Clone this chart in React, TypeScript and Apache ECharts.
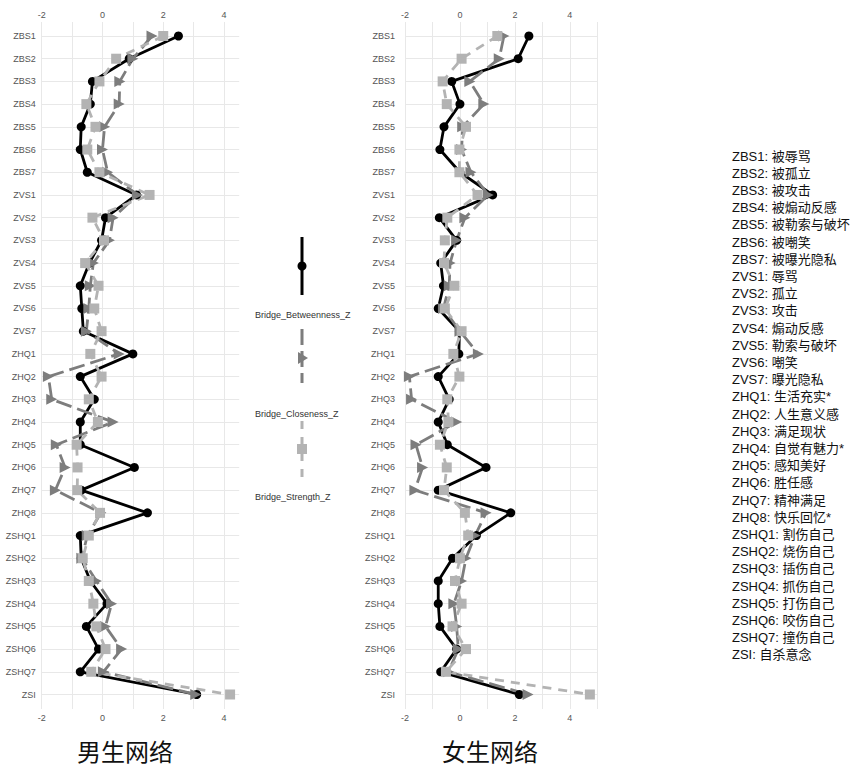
import React, { useEffect, useRef } from "react";
import * as echarts from "echarts";

const categories = [
  "ZBS1", "ZBS2", "ZBS3", "ZBS4", "ZBS5", "ZBS6", "ZBS7",
  "ZVS1", "ZVS2", "ZVS3", "ZVS4", "ZVS5", "ZVS6", "ZVS7",
  "ZHQ1", "ZHQ2", "ZHQ3", "ZHQ4", "ZHQ5", "ZHQ6", "ZHQ7", "ZHQ8",
  "ZSHQ1", "ZSHQ2", "ZSHQ3", "ZSHQ4", "ZSHQ5", "ZSHQ6", "ZSHQ7", "ZSI",
];

const maleBetweenness = [
  2.5, 0.88, -0.33, -0.4, -0.7, -0.73, -0.5,
  1.12, 0.1, -0.03, -0.43, -0.73, -0.68, -0.63,
  1.0, -0.73, -0.27, -0.73, -0.73, 1.05, -0.7, 1.48,
  -0.73, -0.7, -0.4, 0.15, -0.53, -0.13, -0.73, 3.1,
];
const maleCloseness = [
  1.63, 1.0, 0.57, 0.55, 0.07, 0.0, 0.17,
  1.15, 0.35, 0.23, -0.3, -0.4, -0.45, -0.53,
  0.55, -1.78, -1.67, 0.35, -1.52, -1.23, -1.55, -0.05,
  -0.5, -0.68, -0.2, 0.3, 0.1, 0.63, 0.03, 3.07,
];
const maleStrength = [
  2.0, 0.45, -0.1, -0.53, -0.23, -0.5, -0.1,
  1.55, -0.33, 0.05, -0.57, -0.13, -0.27, -0.03,
  -0.4, -0.03, -0.45, -0.15, -0.85, -0.82, -0.83, -0.08,
  -0.45, -0.65, -0.45, -0.3, -0.2, 0.1, -0.37, 4.2,
];

const femaleBetweenness = [
  2.51, 2.12, -0.3, 0.0, -0.58, -0.73, 0.0,
  1.19, -0.75, -0.12, -0.7, -0.6, -0.79, -0.02,
  -0.04, -0.79, -0.39, -0.79, -0.46, 0.95, -0.79, 1.85,
  0.6, -0.27, -0.79, -0.79, -0.73, -0.12, -0.7, 2.16,
];
const femaleCloseness = [
  1.6, 1.43, 0.36, 0.87, 0.1, 0.06, 0.4,
  1.03, 0.18, -0.12, -0.36, -0.39, -0.6, 0.0,
  0.67, -1.84, -1.76, -0.12, -1.6, -1.36, -1.64, 0.95,
  0.55, 0.22, 0.06, -0.22, -0.12, -0.06, -0.42, 2.48,
];
const femaleStrength = [
  1.36, 0.06, -0.63, -0.48, 0.22, -0.02, -0.02,
  0.64, -0.46, -0.55, -0.58, -0.2, -0.55, 0.06,
  -0.24, -0.02, -0.46, -0.42, -0.73, -0.48, -0.58, 0.18,
  0.3, 0.0, -0.18, 0.06, -0.27, 0.22, -0.51, 4.73,
];

const legendNames = ["Bridge_Betweenness_Z", "Bridge_Closeness_Z", "Bridge_Strength_Z"];
const panelTitles = ["男生网络", "女生网络"];

const definitions = [
  "ZBS1: 被辱骂", "ZBS2: 被孤立", "ZBS3: 被攻击", "ZBS4: 被煽动反感", "ZBS5: 被勒索与破坏",
  "ZBS6: 被嘲笑", "ZBS7: 被曝光隐私", "ZVS1: 辱骂", "ZVS2: 孤立", "ZVS3: 攻击",
  "ZVS4: 煽动反感", "ZVS5: 勒索与破坏", "ZVS6: 嘲笑", "ZVS7: 曝光隐私", "ZHQ1: 生活充实*",
  "ZHQ2: 人生意义感", "ZHQ3: 满足现状", "ZHQ4: 自觉有魅力*", "ZHQ5: 感知美好", "ZHQ6: 胜任感",
  "ZHQ7: 精神满足", "ZHQ8: 快乐回忆*", "ZSHQ1: 割伤自己", "ZSHQ2: 烧伤自己", "ZSHQ3: 插伤自己",
  "ZSHQ4: 抓伤自己", "ZSHQ5: 打伤自己", "ZSHQ6: 咬伤自己", "ZSHQ7: 撞伤自己", "ZSI: 自杀意念",
];

const BLACK = "#000000";
const MID = "#7d7d7d";
const LIGHT = "#b3b3b3";
const FONT = "'Liberation Sans', Arial, 'Noto Sans CJK SC', sans-serif";
const GRIDC = "#e8e8e8";

export default function App() {
  const ref = useRef<HTMLDivElement>(null);

  useEffect(() => {
    document.body.style.margin = "0";
    const chart = echarts.init(ref.current!, null, { renderer: "svg" });

    const panels = [
      { left: 41.7, width: 197.5, min: -2, max: 4.5, b: maleBetweenness, c: maleCloseness, s: maleStrength, labelMargin: 6 },
      { left: 405, width: 192.3, min: -2, max: 5, b: femaleBetweenness, c: femaleCloseness, s: femaleStrength, labelMargin: 10 },
    ];

    const grid: any[] = [];
    const xAxis: any[] = [];
    const yAxis: any[] = [];
    const series: any[] = [];

    const fmt = (v: number) => (Math.abs(v % 2) < 1e-9 ? String(v) : "");

    panels.forEach((p, pi) => {
      const gA = pi * 2;
      const gB = pi * 2 + 1;
      grid.push({ left: p.left, width: p.width, top: 22, height: 687 });
      grid.push({ left: p.left, width: p.width, top: 36, height: 658.5 });

      xAxis.push({
        type: "value", gridIndex: gA, position: "top", min: p.min, max: p.max, interval: 1,
        axisLine: { show: false }, axisTick: { show: false }, splitLine: { show: false },
        axisLabel: { formatter: fmt, fontSize: 9, color: "#555", fontFamily: FONT, margin: 3, showMaxLabel: false },
      });
      xAxis.push({
        type: "value", gridIndex: gA, position: "bottom", min: p.min, max: p.max, interval: 1,
        axisLine: { show: false }, axisTick: { show: false },
        splitLine: { show: true, showMaxLine: pi === 1, lineStyle: { color: GRIDC, width: 1 } },
        axisLabel: { formatter: fmt, fontSize: 9, color: "#555", fontFamily: FONT, margin: 4, showMaxLabel: false },
      });
      const xData = xAxis.length;
      xAxis.push({ type: "value", gridIndex: gB, min: p.min, max: p.max, show: false });

      yAxis.push({ type: "value", gridIndex: gA, show: false });
      const yData = yAxis.length;
      yAxis.push({
        type: "category", gridIndex: gB, data: categories, inverse: true, boundaryGap: false,
        axisLine: { show: false }, axisTick: { show: false },
        axisLabel: { interval: 0, fontSize: 9, color: "#555", fontFamily: FONT, margin: p.labelMargin },
        splitLine: { show: true, interval: 0, lineStyle: { color: GRIDC, width: 1 } },
      });

      const mk = (vals: number[]) => categories.map((c, i) => [vals[i], c]);
      const measures = [
        { name: legendNames[0], vals: p.b, color: BLACK, dash: "solid" as any, symbol: "circle", size: 9, rot: 0 },
        { name: legendNames[1], vals: p.c, color: MID, dash: [16, 6], symbol: "triangle", size: 11, rot: -90 },
        { name: legendNames[2], vals: p.s, color: LIGHT, dash: [9, 7], symbol: "rect", size: 10, rot: 0 },
      ];
      // lines first (all below points), as in the original layering
      measures.forEach((m, mi) => {
        series.push({
          name: m.name, type: "line", xAxisIndex: xData, yAxisIndex: yData, data: mk(m.vals),
          showSymbol: false, symbol: "none", z: 2 + mi,
          lineStyle: { color: m.color, width: 2.8, type: m.dash },
        });
      });
      measures.forEach((m, mi) => {
        series.push({
          name: m.name, type: "scatter", xAxisIndex: xData, yAxisIndex: yData, data: mk(m.vals),
          symbol: m.symbol, symbolSize: m.size, symbolRotate: m.rot, z: 6 + mi,
          itemStyle: { color: m.color, opacity: 1 },
        });
      });
    });

    const lx = 302;
    const graphic: any[] = [
      { type: "line", shape: { x1: lx, y1: 237, x2: lx, y2: 295 }, style: { stroke: BLACK, lineWidth: 3 } },
      { type: "circle", shape: { cx: lx, cy: 266, r: 4.5 }, style: { fill: BLACK } },
      { type: "text", x: 255, y: 315, style: { text: legendNames[0], fill: "#333", font: `9px ${FONT}`, verticalAlign: "middle" } },
      { type: "line", shape: { x1: lx, y1: 329, x2: lx, y2: 383 }, style: { stroke: MID, lineWidth: 3, lineDash: [16, 6] } },
      { type: "polygon", shape: { points: [[lx - 4, 352], [lx + 6, 358], [lx - 4, 364]] }, style: { fill: MID } },
      { type: "text", x: 255, y: 414, style: { text: legendNames[1], fill: "#333", font: `9px ${FONT}`, verticalAlign: "middle" } },
      { type: "line", shape: { x1: lx, y1: 421, x2: lx, y2: 478 }, style: { stroke: LIGHT, lineWidth: 3, lineDash: [8, 8] } },
      { type: "rect", shape: { x: lx - 5, y: 444, width: 10, height: 10 }, style: { fill: LIGHT } },
      { type: "text", x: 255, y: 497, style: { text: legendNames[2], fill: "#333", font: `9px ${FONT}`, verticalAlign: "middle" } },
      {
        type: "text", x: 732, y: 147.5,
        style: { text: definitions.join("\n"), font: `13px ${FONT}`, fill: "#111", lineHeight: 17.2, verticalAlign: "top" },
      },
      { type: "text", x: 125, y: 752, style: { text: panelTitles[0], font: `24px ${FONT}`, fill: "#111", align: "center", verticalAlign: "middle" } },
      { type: "text", x: 490, y: 752, style: { text: panelTitles[1], font: `24px ${FONT}`, fill: "#111", align: "center", verticalAlign: "middle" } },
    ];

    chart.setOption({
      animation: false,
      backgroundColor: "#ffffff",
      grid, xAxis, yAxis, series, graphic,
    });

    return () => chart.dispose();
  }, []);

  return <div ref={ref} style={{ width: 858, height: 767 }} />;
}
